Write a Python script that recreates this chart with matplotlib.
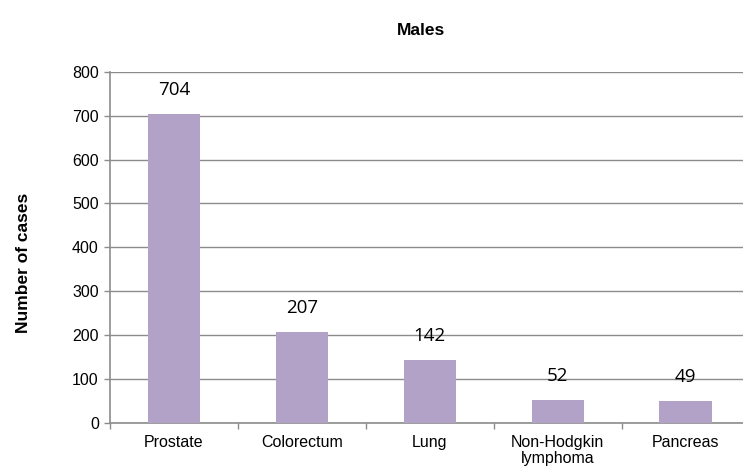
import numpy as np
import matplotlib.pyplot as plt

categories = ["Prostate", "Colorectum", "Lung", "Non-Hodgkin\nlymphoma", "Pancreas"]
cases = [704, 207, 142, 52, 49]
y_ticks = [0, 100, 200, 300, 400, 500, 600, 700, 800]

plt.rcParams['font.family'] = ['Liberation Sans', 'DejaVu Sans']

fig = plt.figure(figsize=(7.43, 4.69), dpi=100)
ax = fig.add_axes([0.148, 0.0987, 0.861, 0.748])

x = np.arange(len(categories))
bars = ax.bar(x, cases, width=0.41, color='#B3A2C7', zorder=3)

for xi, v in zip(x, cases):
    ax.annotate(str(v), (xi, v), xytext=(0, 11), textcoords='offset points',
                ha='center', va='bottom', fontsize=13.5, family=['Open Sans', 'DejaVu Sans'])

ax.set_xlim(-0.5, len(categories) - 0.5)
ax.set_ylim(0, 800)
ax.set_yticks(y_ticks)
ax.yaxis.grid(True, color='#8c8c8c', linewidth=1.0, zorder=0)

ax.set_xticks(x)
ax.set_xticklabels(categories, fontsize=11.5, linespacing=1.05)
ax.set_xticks(np.arange(len(categories)) - 0.5, minor=True)
ax.tick_params(axis='x', which='major', length=0, pad=9)
ax.tick_params(axis='x', which='minor', length=4, color='#8c8c8c', width=1)
ax.tick_params(axis='y', length=4, color='#8c8c8c', width=1, labelsize=11.5, pad=4)

for side in ['top', 'right']:
    ax.spines[side].set_visible(False)
for side in ['left', 'bottom']:
    ax.spines[side].set_color('#8c8c8c')
    ax.spines[side].set_linewidth(1.2)

ax.set_ylabel("Number of cases", fontsize=12.5, fontweight='bold')
ax.yaxis.set_label_coords(-0.124, 0.457)
fig.text(0.567, 0.935, "Males", ha='center', va='center', fontsize=12.5, fontweight='bold')

fig.savefig('out.png', dpi=100)
